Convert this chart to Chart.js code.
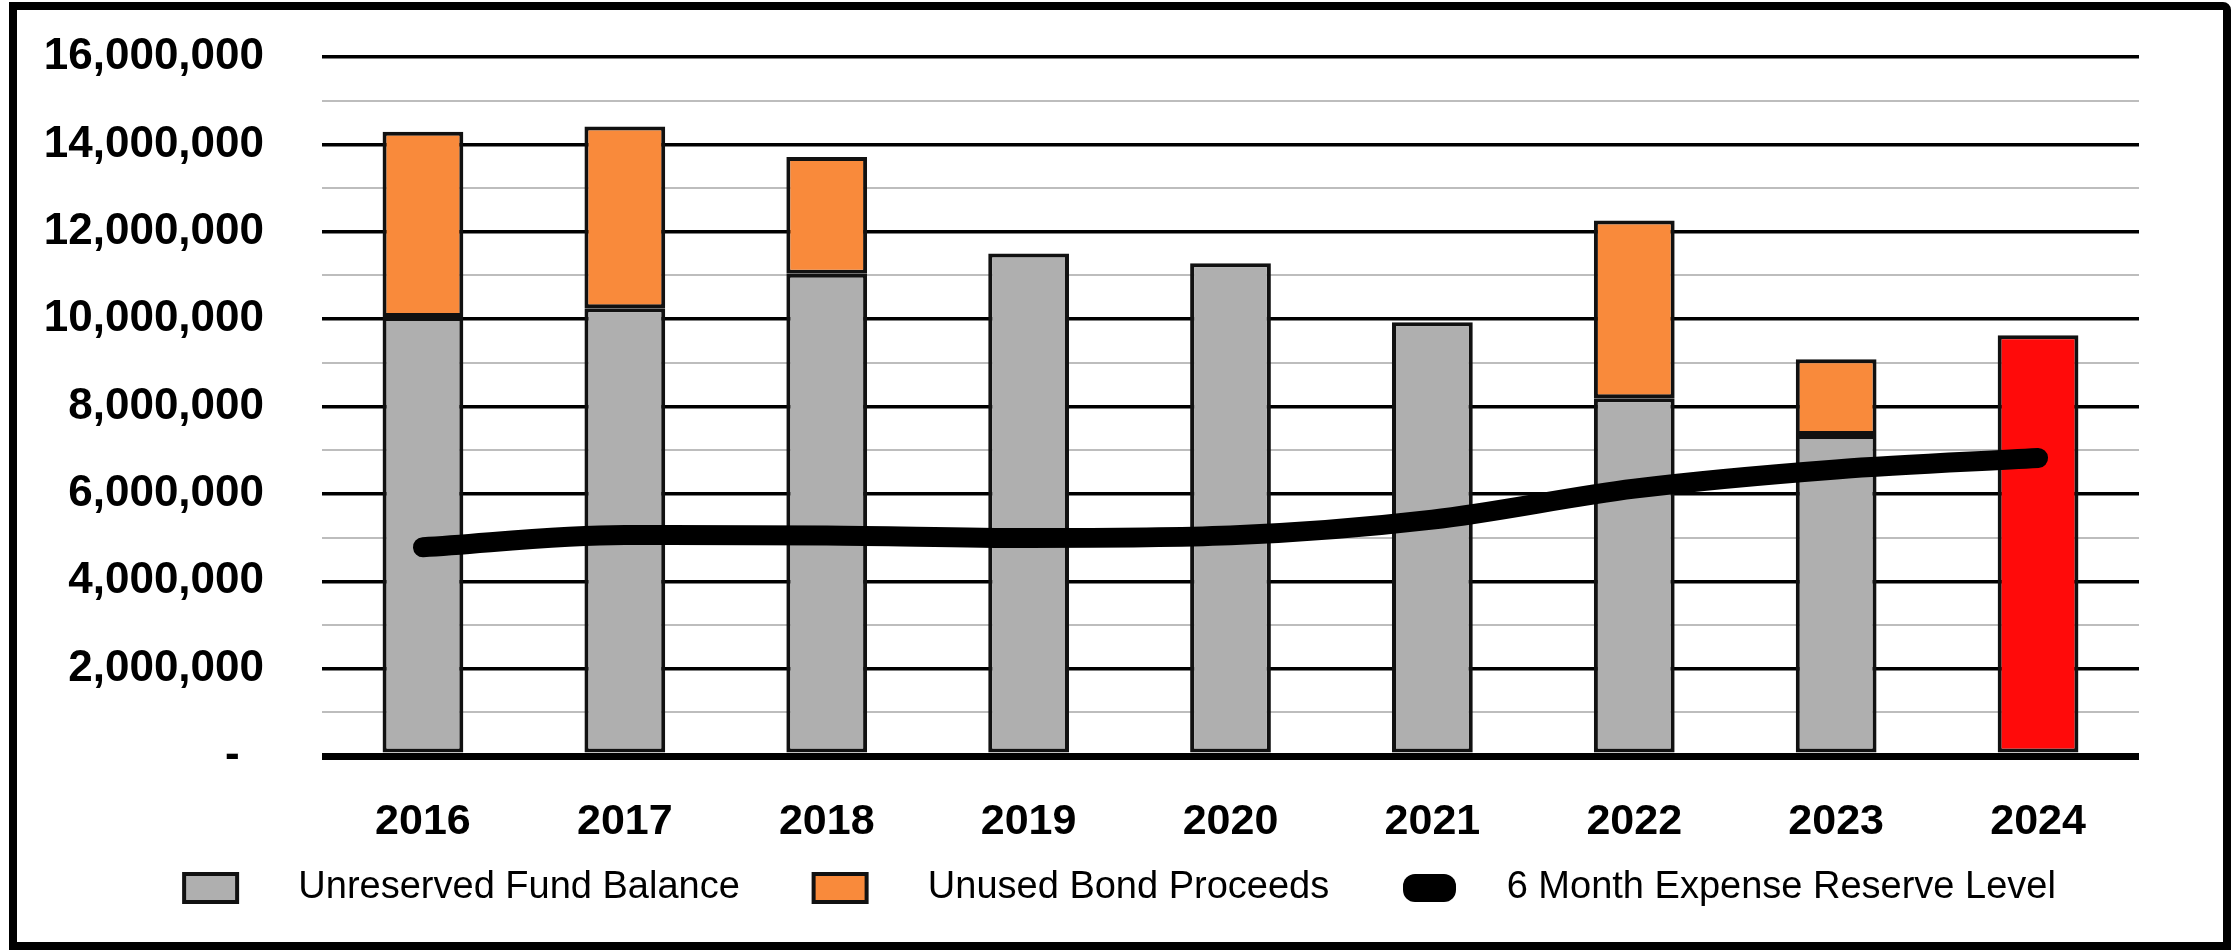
<!DOCTYPE html>
<html>
<head>
<meta charset="utf-8">
<script src="https://cdn.jsdelivr.net/npm/chart.js@4.4.1/dist/chart.umd.min.js"></script>
<style>
  html, body { margin: 0; padding: 0; background: #fff; }
  #frame {
    position: absolute; left: 9px; top: 2px;
    width: 2222px; height: 948px;
    border: 8px solid #000; border-radius: 0 8px 0 0;
    box-sizing: border-box; background: #fff;
  }
  #wrap { position: relative; width: 100%; height: 100%; }
</style>
</head>
<body>
<div id="frame"><div id="wrap"><canvas id="fundChart"></canvas></div></div>
<script>
// dados do gráfico
const years = ['2016', '2017', '2018', '2019', '2020', '2021', '2022', '2023', '2024'];
const unreservedFund = [10050000, 10250000, 11040000, 11500000, 11280000, 9930000, 8190000, 7350000, 9630000];
const unusedBond = [4240000, 4160000, 2670000, null, null, null, 4070000, 1730000, null];
const reserveLevel = [4780000, 5060000, 5050000, 4990000, 5050000, 5410000, 6120000, 6560000, 6820000];
const yTicks = [0, 2000000, 4000000, 6000000, 8000000, 10000000, 12000000, 14000000, 16000000];
const projectedYear = '2024';

const font = "'Liberation Sans', Arial, sans-serif";

window.onload = function() {
    const ctx = document.getElementById('fundChart').getContext('2d');

    new Chart(ctx, {
        data: {
            labels: years,
            datasets: [
                {
                    type: 'bar',
                    label: 'Unreserved Fund Balance',
                    data: unreservedFund,
                    backgroundColor: c => years[c.dataIndex] === projectedYear ? '#FF0A0A' : '#AFAFAF',
                    borderColor: '#111',
                    borderWidth: 4,
                    borderSkipped: false,
                    stack: 'fund',
                    order: 1
                },
                {
                    type: 'bar',
                    label: 'Unused Bond Proceeds',
                    data: unusedBond,
                    backgroundColor: '#F98A3B',
                    borderColor: '#111',
                    borderWidth: 4,
                    borderSkipped: false,
                    stack: 'fund',
                    order: 2
                },
                {
                    type: 'line',
                    label: '6 Month Expense Reserve Level',
                    data: reserveLevel,
                    borderColor: '#000',
                    backgroundColor: '#000',
                    borderWidth: 20,
                    borderCapStyle: 'round',
                    borderJoinStyle: 'round',
                    cubicInterpolationMode: 'monotone',
                    pointRadius: 0,
                    stack: 'reserve',
                    order: 0
                }
            ]
        },
        options: {
            responsive: true,
            maintainAspectRatio: false,
            animation: false,
            layout: { padding: { top: 47, right: 0, bottom: 25, left: 0 } },
            datasets: { bar: { categoryPercentage: 1, barPercentage: 0.4 } },
            scales: {
                x: {
                    stacked: true,
                    grid: { display: false, drawTicks: false },
                    border: { display: false },
                    ticks: {
                        color: '#000',
                        padding: 40,
                        font: { family: font, size: 43, weight: 'bold' }
                    },
                    afterFit: s => {
                        // espaço fixo abaixo do gráfico e margem direita
                        s.height = 92;
                        s.paddingLeft = 0;
                        s.paddingRight = 84;
                    }
                },
                y: {
                    stacked: true,
                    min: 0,
                    max: 16000000,
                    afterBuildTicks: s => {
                        // ticks a cada 1.000.000 (linhas menores cinza)
                        const t = [];
                        for (let i = 0; i < yTicks.length; i++) {
                            t.push({ value: yTicks[i] });
                            if (i < yTicks.length - 1) t.push({ value: yTicks[i] + 1000000 });
                        }
                        s.ticks = t;
                    },
                    afterFit: s => {
                        s.width = 305;
                        s.paddingTop = 0;
                        s.paddingBottom = 0;
                    },
                    border: { display: false },
                    grid: {
                        drawTicks: false,
                        color: c => yTicks.includes(c.tick.value) ? '#000' : '#BDBDBD',
                        lineWidth: c => c.tick.value === 0 ? 7 : (yTicks.includes(c.tick.value) ? 3.5 : 2)
                    },
                    ticks: {
                        autoSkip: false,
                        color: '#000',
                        padding: 58,
                        font: { family: font, size: 44, weight: 'bold' },
                        callback: v => {
                            if (!yTicks.includes(v)) return '';
                            return v === 0 ? '-  ' : v.toLocaleString('en-US');
                        }
                    }
                }
            },
            plugins: {
                tooltip: { enabled: false },
                legend: {
                    position: 'bottom',
                    labels: {
                        color: '#000',
                        boxWidth: 53,
                        boxHeight: 28,
                        padding: 21,
                        useBorderRadius: true,
                        font: { family: font, size: 38 },
                        sort: (a, b) => a.datasetIndex - b.datasetIndex,
                        generateLabels: chart => {
                            const items = Chart.defaults.plugins.legend.labels.generateLabels(chart);
                            items.forEach(it => {
                                if (it.datasetIndex === 2) {
                                    it.lineWidth = 0;
                                    it.fillStyle = '#000';
                                    it.borderRadius = 12;
                                    it.text = '   ' + it.text;
                                } else {
                                    it.lineWidth = 4;
                                    it.strokeStyle = '#111';
                                    it.borderRadius = 0;
                                    it.text = '    ' + it.text + '     ';
                                }
                            });
                            return items;
                        }
                    }
                }
            }
        }
    });
};
</script>
</body>
</html>
